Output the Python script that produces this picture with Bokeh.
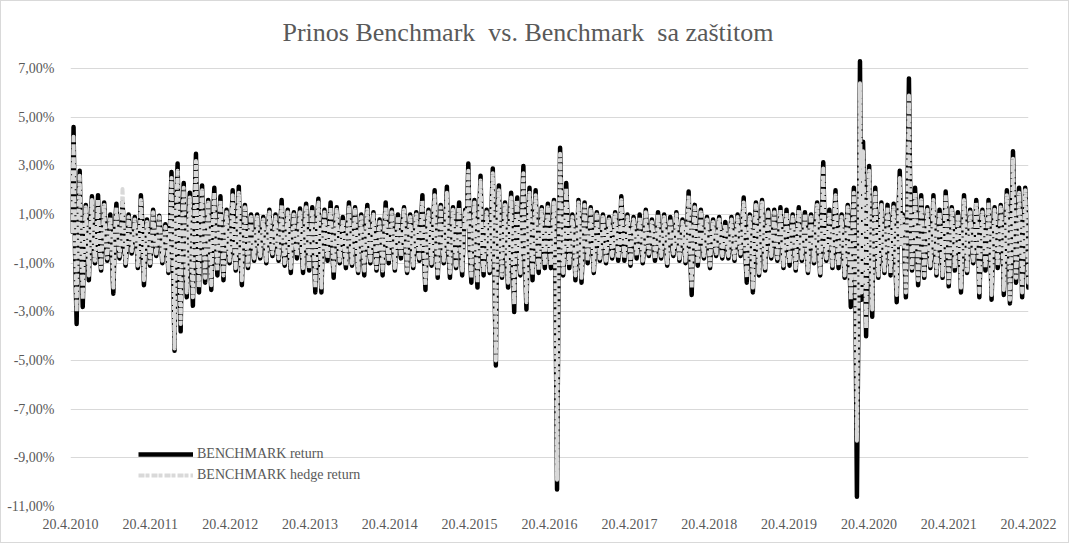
import pandas as pd
from bokeh.plotting import figure
from bokeh.models import (FixedTicker, CustomJSTickFormatter, Legend, LegendItem,
                          ColumnDataSource, Range1d)
from bokeh.embed import file_html
from bokeh.resources import INLINE

# ---------------- data (returns in %, weekly from 20.4.2010) ----------------
# "main" values = the larger swings read at every second week,
# "mid" values  = the smaller moves in the week between them.
START = "2010-04-20"
STEP_DAYS = 7

bench_y2010 = [0.8, 4.6, -3.5, 2.8, -2.8, 1.4, -1.7, 1.75, -1.0, 1.8, -1.3, 1.5, -0.9, 1.0, -2.25, 1.45, -0.8, 1.5, -1.1, 1.0, -0.6, 0.9, -1.2, 1.8, -1.9, 0.8]
bench_y2011 = [-1.1, 1.2, -0.7, 0.95, -1.0, 0.6, -1.4, 2.75, -4.6, 3.1, -3.8, 2.3, -2.4, 1.9, -2.75, 3.5, -2.2, 2.2, -1.8, 1.6, -2.1, 2.1, -1.5, 1.75, -1.7, 1.2]
bench_y2012 = [-1.0, 2.0, -1.3, 2.15, -1.9, 1.4, -1.2, 1.0, -0.9, 1.0, -0.8, 0.9, -1.0, 1.2, -0.7, 1.0, -0.9, 1.6, -1.1, 1.2, -1.4, 1.1, -0.8, 1.25, -1.4, 1.45]
bench_y2013 = [-1.3, 1.3, -2.2, 1.65, -2.2, 1.2, -0.9, 1.5, -1.6, 1.3, -1.0, 0.9, -1.2, 1.5, -1.1, 1.3, -1.4, 1.0, -1.5, 1.4, -1.0, 1.1, -1.3, 0.8, -1.5, 1.5]
bench_y2014 = [-1.0, 1.2, -1.3, 1.0, -0.8, 1.3, -1.4, 1.0, -1.2, 1.1, -0.9, 1.8, -2.1, 1.2, -1.1, 2.0, -1.6, 1.4, -1.0, 2.15, -1.6, 1.3, -1.2, 1.5, -1.5, 1.2]
bench_y2015 = [3.1, -1.8, 1.6, -2.0, 2.6, -1.5, 1.2, -1.4, 2.9, -5.2, 2.2, -1.6, 1.5, -2.0, 1.9, -3.0, 1.7, -1.5, 3.0, -2.9, 2.1, -1.7, 2.0, -1.4, 1.3, -1.2]
bench_y2016 = [1.45, -1.2, 1.6, -10.3, 3.75, -1.5, 2.3, -1.2, 1.0, -1.7, 1.6, -1.8, 1.5, -1.0, 1.3, -1.4, 1.1, -0.9, 1.0, -1.0, 0.9, -0.8, 1.1, -0.9, 1.75, -0.9]
bench_y2017 = [1.0, -1.1, 0.9, -0.8, 1.0, -1.0, 1.2, -0.7, 0.8, -0.9, 1.1, -0.8, 1.0, -1.1, 0.9, -0.7, 1.1, -0.9, 0.8, -1.0, 1.95, -2.3, 1.4, -1.1, 1.2, -0.8]
bench_y2018 = [0.9, -1.2, 0.8, -0.7, 0.9, -0.8, 0.7, -0.8, 0.9, -0.9, 1.0, -0.7, 1.7, -1.8, 1.0, -2.2, 1.5, -1.5, 1.6, -1.3, 1.2, -0.8, 1.2, -0.9, 1.3, -1.2]
bench_y2019 = [1.2, -1.1, 1.0, -1.3, 1.3, -0.9, 1.1, -1.4, 1.0, -1.0, 1.5, -1.5, 3.15, -0.9, 1.2, -1.2, 2.0, -1.2, 1.0, -1.6, 1.4, -2.8, 2.1, -10.6, 7.3, 4.0]
bench_y2020 = [-4.0, 3.0, -3.2, 2.1, -1.6, 1.5, -1.4, 1.4, -1.5, 1.45, -2.6, 2.8, 1.0, -2.4, 6.6, -1.3, 2.1, -1.9, 1.8, -1.6, 1.3, -1.2, 1.8, -1.5, 1.2, -1.6]
bench_y2021 = [1.95, -1.95, 1.3, -1.3, 1.1, -2.2, 1.8, -1.4, 1.2, -1.0, 1.6, -2.4, 1.2, -1.3, 1.6, -2.5, 1.3, -1.2, 1.4, -2.3, 2.0, -2.65, 3.6, -1.8, 2.1, -2.4, 2.1, -2.0]

bench_mid_y2010 = [0.3, -0.5, 0.6, -0.4, 0.2, -0.3, 0.4, -0.2, 0.1, -0.4, 0.3, -0.1, 0.2, -0.5, 0.4, 0.1, -0.3, 0.2, -0.2, 0.3, -0.1, 0.2, -0.4, 0.5, -0.2, 0.1]
bench_mid_y2011 = [-0.2, 0.3, -0.1, 0.2, -0.3, 0.1, 0.4, -0.8, 1.2, -1.0, 0.9, -0.7, 0.5, -1.1, 1.0, -0.6, 0.8, -0.4, 0.3, -0.5, 0.6, -0.3, 0.4, -0.2, 0.3, -0.4]
bench_mid_y2012 = [0.4, -0.3, 0.5, -0.6, 0.2, -0.1, 0.3, -0.2, 0.1, -0.3, 0.2, -0.1, 0.3, -0.2, 0.1, -0.2, 0.4, -0.3, 0.2, -0.4, 0.3, -0.1, 0.2, -0.3, 0.4, -0.2]
bench_mid_y2013 = [0.2, -0.5, 0.6, -0.4, 0.3, -0.2, 0.4, -0.3, 0.2, -0.1, 0.3, -0.4, 0.2, -0.3, 0.4, -0.2, 0.1, -0.4, 0.3, -0.2, 0.2, -0.3, 0.1, -0.4, 0.3, -0.2]
bench_mid_y2014 = [0.3, -0.2, 0.1, -0.3, 0.4, -0.2, 0.3, -0.1, 0.2, -0.3, 0.5, -0.6, 0.4, -0.2, 0.6, -0.4, 0.3, -0.2, 0.5, -0.4, 0.3, -0.2, 0.4, -0.3, 0.2, 0.6]
bench_mid_y2015 = [-0.5, 0.4, -0.6, 0.7, -0.3, 0.2, -0.4, 0.8, -1.2, 0.9, -0.5, 0.3, -0.6, 0.5, -0.9, 0.6, -0.4, 0.9, -0.8, 0.5, -0.4, 0.6, -0.3, 0.2, -0.3, 0.4]
bench_mid_y2016 = [-0.3, 0.4, -2.0, -1.5, 0.9, -0.3, 0.5, -0.2, 0.3, -0.5, 0.4, -0.3, 0.2, -0.1, 0.3, -0.2, 0.1, -0.2, 0.3, -0.1, 0.2, -0.3, 0.1, -0.2, 0.4, -0.1]
bench_mid_y2017 = [0.2, -0.1, 0.3, -0.2, 0.1, -0.3, 0.2, -0.1, 0.2, -0.2, 0.1, -0.3, 0.2, -0.1, 0.3, -0.2, 0.1, -0.2, 0.3, 0.5, -0.6, 0.4, -0.3, 0.2, -0.1, 0.2]
bench_mid_y2018 = [-0.2, 0.1, -0.3, 0.2, -0.1, 0.2, -0.3, 0.1, -0.2, 0.3, -0.1, 0.4, -0.5, 0.3, -0.6, 0.4, -0.3, 0.4, -0.2, 0.3, -0.1, 0.2, -0.3, 0.2, -0.1, 0.3]
bench_mid_y2019 = [-0.2, 0.3, -0.1, 0.2, -0.3, 0.1, -0.2, 0.3, -0.1, 0.4, -0.3, 0.6, -0.2, 0.3, -0.1, 0.5, -0.3, 0.2, -0.4, 0.3, -0.7, 0.5, -2.0, -3.0, -2.5, 1.2]
bench_mid_y2020 = [0.8, -1.0, 0.6, -0.4, 0.3, -0.5, 0.4, -0.3, 0.5, -0.6, 0.7, -0.2, -0.5, 1.5, 0.8, -0.4, 0.5, -0.3, 0.4, -0.2, 0.3, -0.4, 0.2, -0.3, 0.4, -0.2]
bench_mid_y2021 = [0.5, -0.3, 0.4, -0.2, 0.3, -0.6, 0.4, -0.2, 0.3, -0.4, 0.5, -0.3, 0.2, -0.5, 0.4, -0.3, 0.2, -0.4, 0.6, -0.5, 0.7, -0.6, 0.9, -0.5, 0.6, -0.4, 0.5, -0.3]

hedge_y2010 = [0.7, 4.2, -3.0, 2.6, -2.5, 1.3, -1.5, 1.6, -0.9, 1.6, -1.2, 1.4, -0.8, 0.9, -2.0, 1.3, -0.7, 2.05, -1.0, 0.9, -0.5, 0.8, -1.1, 1.6, -1.7, 0.7]
hedge_y2011 = [-1.0, 1.1, -0.6, 0.9, -0.9, 0.5, -1.3, 2.5, -4.5, 2.8, -3.5, 2.1, -2.2, 1.7, -2.4, 3.2, -2.0, 2.0, -1.6, 1.5, -1.9, 1.9, -1.3, 1.6, -1.5, 1.1]
hedge_y2012 = [-0.9, 1.8, -1.2, 1.9, -1.7, 1.3, -1.1, 0.9, -0.8, 0.9, -0.7, 0.8, -0.9, 1.1, -0.6, 0.9, -0.8, 1.4, -1.0, 1.1, -1.2, 1.0, -0.7, 1.1, -1.2, 1.3]
hedge_y2013 = [-1.2, 1.2, -2.0, 1.5, -2.0, 1.1, -0.8, 1.3, -1.4, 1.2, -0.9, 0.8, -1.1, 1.3, -1.0, 1.2, -1.3, 0.9, -1.3, 1.2, -0.9, 1.0, -1.2, 0.7, -1.3, 1.3]
hedge_y2014 = [-0.9, 1.1, -1.2, 0.9, -0.7, 1.2, -1.3, 0.9, -1.1, 1.0, -0.8, 1.6, -1.9, 1.1, -1.0, 1.8, -1.5, 1.3, -0.9, 1.9, -1.4, 1.2, -1.1, 1.3, -1.3, 1.1]
hedge_y2015 = [2.8, -1.6, 1.5, -1.8, 2.4, -1.4, 1.1, -1.3, 2.7, -5.0, 2.0, -1.5, 1.4, -1.8, 1.7, -2.7, 1.6, -1.4, 2.7, -2.6, 1.9, -1.5, 1.8, -1.3, 1.2, -1.1]
hedge_y2016 = [1.3, -1.1, 1.5, -9.9, 3.5, -1.4, 2.1, -1.1, 0.9, -1.5, 1.5, -1.6, 1.4, -0.9, 1.2, -1.3, 1.0, -0.8, 0.9, -0.9, 0.8, -0.7, 1.0, -0.8, 1.6, -0.8]
hedge_y2017 = [0.9, -1.0, 0.8, -0.7, 0.9, -0.9, 1.1, -0.6, 0.7, -0.8, 1.0, -0.7, 0.9, -1.0, 0.8, -0.6, 1.0, -0.8, 0.7, -0.9, 1.8, -2.0, 1.3, -1.0, 1.1, -0.7]
hedge_y2018 = [0.8, -1.1, 0.7, -0.6, 0.8, -0.7, 0.6, -0.7, 0.8, -0.8, 0.9, -0.6, 1.5, -1.6, 0.9, -2.0, 1.4, -1.4, 1.5, -1.2, 1.1, -0.7, 1.1, -0.8, 1.2, -1.1]
hedge_y2019 = [1.1, -1.0, 0.9, -1.2, 1.2, -0.8, 1.0, -1.3, 0.9, -0.9, 1.4, -1.4, 2.9, -0.8, 1.1, -1.1, 1.8, -1.1, 0.9, -1.5, 1.3, -2.5, 1.9, -8.3, 6.4, 3.6]
hedge_y2020 = [-3.7, 2.8, -2.9, 1.9, -1.5, 1.4, -1.3, 1.3, -1.4, 1.3, -2.3, 2.5, 0.9, -2.2, 5.9, -1.2, 1.9, -1.7, 1.6, -1.5, 1.2, -1.1, 1.6, -1.4, 1.1, -1.5]
hedge_y2021 = [1.8, -1.8, 1.2, -1.2, 1.0, -2.0, 1.6, -1.3, 1.1, -0.9, 1.5, -2.2, 1.1, -1.2, 1.5, -2.3, 1.2, -1.1, 1.3, -2.1, 1.8, -2.5, 3.3, -1.6, 1.9, -2.2, 2.0, -1.8]

hedge_mid_y2010 = [0.2, -0.4, 0.5, -0.3, 0.2, -0.2, 0.3, -0.2, 0.1, -0.3, 0.2, -0.1, 0.2, -0.4, 0.3, 0.1, -0.2, 0.2, -0.1, 0.2, -0.1, 0.2, -0.3, 0.4, -0.2, 0.1]
hedge_mid_y2011 = [-0.2, 0.2, -0.1, 0.2, -0.2, 0.1, 0.3, -0.7, 1.1, -0.9, 0.8, -0.6, 0.4, -1.0, 0.9, -0.5, 0.7, -0.3, 0.3, -0.4, 0.5, -0.3, 0.3, -0.2, 0.2, -0.3]
hedge_mid_y2012 = [0.3, -0.3, 0.4, -0.5, 0.2, -0.1, 0.2, -0.2, 0.1, -0.2, 0.2, -0.1, 0.2, -0.2, 0.1, -0.2, 0.3, -0.2, 0.2, -0.3, 0.2, -0.1, 0.2, -0.2, 0.3, -0.2]
hedge_mid_y2013 = [0.2, -0.4, 0.5, -0.3, 0.2, -0.2, 0.3, -0.2, 0.2, -0.1, 0.2, -0.3, 0.2, -0.2, 0.3, -0.2, 0.1, -0.3, 0.2, -0.2, 0.2, -0.2, 0.1, -0.3, 0.2, -0.2]
hedge_mid_y2014 = [0.2, -0.2, 0.1, -0.2, 0.3, -0.2, 0.2, -0.1, 0.2, -0.2, 0.4, -0.5, 0.3, -0.2, 0.5, -0.3, 0.2, -0.2, 0.4, -0.3, 0.2, -0.2, 0.3, -0.2, 0.2, 0.5]
hedge_mid_y2015 = [-0.4, 0.3, -0.5, 0.6, -0.3, 0.2, -0.3, 0.7, -1.1, 0.8, -0.4, 0.3, -0.5, 0.4, -0.8, 0.5, -0.3, 0.8, -0.7, 0.4, -0.3, 0.5, -0.3, 0.2, -0.2, 0.3]
hedge_mid_y2016 = [-0.2, 0.3, -1.8, -1.3, 0.8, -0.2, 0.4, -0.2, 0.2, -0.4, 0.3, -0.2, 0.2, -0.1, 0.2, -0.2, 0.1, -0.2, 0.2, -0.1, 0.2, -0.2, 0.1, -0.2, 0.3, -0.1]
hedge_mid_y2017 = [0.2, -0.1, 0.2, -0.2, 0.1, -0.2, 0.2, -0.1, 0.2, -0.2, 0.1, -0.2, 0.2, -0.1, 0.2, -0.2, 0.1, -0.2, 0.2, 0.4, -0.5, 0.3, -0.2, 0.2, -0.1, 0.2]
hedge_mid_y2018 = [-0.2, 0.1, -0.2, 0.2, -0.1, 0.2, -0.2, 0.1, -0.2, 0.2, -0.1, 0.3, -0.4, 0.2, -0.5, 0.3, -0.2, 0.3, -0.2, 0.2, -0.1, 0.2, -0.2, 0.2, -0.1, 0.2]
hedge_mid_y2019 = [-0.2, 0.2, -0.1, 0.2, -0.2, 0.1, -0.2, 0.2, -0.1, 0.3, -0.2, 0.5, -0.2, 0.2, -0.1, 0.4, -0.2, 0.2, -0.3, 0.2, -0.6, 0.4, -1.7, -2.6, -2.2, 1.0]
hedge_mid_y2020 = [0.7, -0.9, 0.5, -0.3, 0.2, -0.4, 0.3, -0.2, 0.4, -0.5, 0.6, -0.2, -0.4, 1.3, 0.7, -0.3, 0.4, -0.2, 0.3, -0.2, 0.2, -0.3, 0.2, -0.2, 0.3, -0.2]
hedge_mid_y2021 = [0.4, -0.3, 0.3, -0.2, 0.2, -0.5, 0.3, -0.2, 0.2, -0.3, 0.4, -0.2, 0.2, -0.4, 0.3, -0.2, 0.2, -0.3, 0.5, -0.4, 0.6, -0.5, 0.8, -0.4, 0.5, -0.3, 0.4, -0.3]

x_tick_dates = ["2010-04-20", "2011-04-20", "2012-04-20", "2013-04-20", "2014-04-20", "2015-04-20",
                "2016-04-20", "2017-04-20", "2018-04-20", "2019-04-20", "2020-04-20", "2021-04-20",
                "2022-04-20"]
y_ticks = [-11, -9, -7, -5, -3, -1, 1, 3, 5, 7]

series_labels = ["BENCHMARK return", "BENCHMARK hedge return"]
title_text = "Prinos Benchmark\u00a0 vs. Benchmark\u00a0 sa zaštitom"

# ---------------- assemble (interleave main and mid weeks) ----------------
bench_main = (bench_y2010 + bench_y2011 + bench_y2012 + bench_y2013 + bench_y2014 + bench_y2015 +
              bench_y2016 + bench_y2017 + bench_y2018 + bench_y2019 + bench_y2020 + bench_y2021)
bench_mid = (bench_mid_y2010 + bench_mid_y2011 + bench_mid_y2012 + bench_mid_y2013 + bench_mid_y2014 +
             bench_mid_y2015 + bench_mid_y2016 + bench_mid_y2017 + bench_mid_y2018 + bench_mid_y2019 +
             bench_mid_y2020 + bench_mid_y2021)
hedge_main = (hedge_y2010 + hedge_y2011 + hedge_y2012 + hedge_y2013 + hedge_y2014 + hedge_y2015 +
              hedge_y2016 + hedge_y2017 + hedge_y2018 + hedge_y2019 + hedge_y2020 + hedge_y2021)
hedge_mid = (hedge_mid_y2010 + hedge_mid_y2011 + hedge_mid_y2012 + hedge_mid_y2013 + hedge_mid_y2014 +
             hedge_mid_y2015 + hedge_mid_y2016 + hedge_mid_y2017 + hedge_mid_y2018 + hedge_mid_y2019 +
             hedge_mid_y2020 + hedge_mid_y2021)

bench, hedge = [], []
for a, b, c, d in zip(bench_main, bench_mid, hedge_main, hedge_mid):
    bench += [a, b]
    hedge += [c, d]
dates = pd.date_range(START, periods=len(bench), freq=f"{STEP_DAYS}D")
src = ColumnDataSource(dict(date=dates, bench=bench, hedge=hedge))

GRAY_TXT = "#595959"
FONT = "Liberation Serif"

p = figure(width=1069, height=543, x_axis_type="datetime", output_backend="svg",
           toolbar_location=None,
           x_range=Range1d(pd.Timestamp(x_tick_dates[0]), pd.Timestamp(x_tick_dates[-1])),
           y_range=Range1d(-11, 7.5),
           min_border_left=69, min_border_right=42, min_border_top=55, min_border_bottom=38)
p.styles = {"border": "1px solid #d9d9d9"}
p.background_fill_color = "white"
p.border_fill_color = "white"
p.outline_line_color = None

p.title.text = title_text
p.title.align = "left"
p.title.offset = 212
p.title.standoff = 19
p.title.text_font = FONT
p.title.text_font_size = "26px"
p.title.text_font_style = "normal"
p.title.text_color = GRAY_TXT

xt = [pd.Timestamp(d).value // 10**6 for d in x_tick_dates]
p.xaxis.ticker = FixedTicker(ticks=xt)
p.xaxis.formatter = CustomJSTickFormatter(code="""
const d = new Date(tick);
return d.getUTCDate() + "." + (d.getUTCMonth() + 1) + "." + d.getUTCFullYear();
""")
p.yaxis.ticker = FixedTicker(ticks=y_ticks)
p.yaxis.formatter = CustomJSTickFormatter(code="""
return tick.toFixed(2).replace(".", ",") + "%";
""")
for ax in (p.xaxis, p.yaxis):
    ax.axis_line_color = None
    ax.major_tick_line_color = None
    ax.minor_tick_line_color = None
    ax.major_label_text_font = FONT
    ax.major_label_text_font_size = "14px"
    ax.major_label_text_color = GRAY_TXT
p.yaxis.major_label_standoff = 10
p.xaxis.major_label_standoff = 6

p.xgrid.grid_line_color = None
p.ygrid.ticker = FixedTicker(ticks=y_ticks)
p.ygrid.grid_line_color = "#d9d9d9"
p.ygrid.grid_line_width = 1

r1 = p.line("date", "bench", source=src, line_color="black", line_width=4.5, line_join="round")
r2 = p.line("date", "hedge", source=src, line_color="#d9d9d9", line_width=4,
            line_dash="6 1 4 2", line_join="round")

legend = Legend(items=[LegendItem(label=series_labels[0], renderers=[r1]),
                       LegendItem(label=series_labels[1], renderers=[r2])],
                location=(63, 16), glyph_width=55, glyph_height=20,
                label_text_font=FONT, label_text_font_size="14px", label_text_color=GRAY_TXT,
                background_fill_alpha=0, border_line_alpha=0, padding=5, spacing=1,
                label_standoff=4, margin=0)
p.add_layout(legend)

open("out.html", "w").write(file_html(p, INLINE))
